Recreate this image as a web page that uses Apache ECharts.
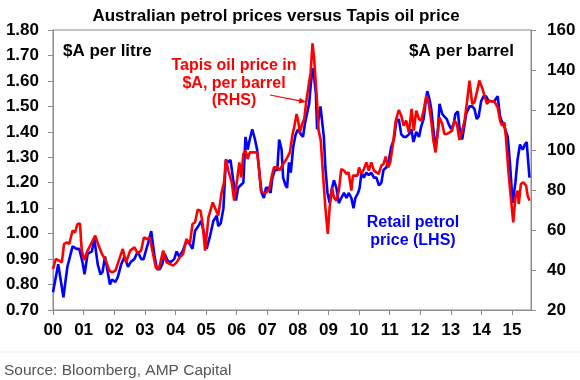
<!DOCTYPE html>
<html>
<head>
<meta charset="utf-8">
<script src="https://cdn.jsdelivr.net/npm/echarts@6/dist/echarts.min.js"></script>
<style>
  html, body { margin: 0; padding: 0; background: #fff; }
  #chart { width: 580px; height: 380px; }
</style>
</head>
<body>
<div id="chart"></div>
<script>
// 零售汽油价格 (LHS, $A per litre)
var petrolYears = [2000.00, 2000.17, 2000.34, 2000.47, 2000.64, 2000.77, 2000.86, 2000.96, 2001.03, 2001.13, 2001.27, 2001.35, 2001.46, 2001.55, 2001.62, 2001.70, 2001.86, 2001.93, 2002.04, 2002.12, 2002.23, 2002.34, 2002.45, 2002.55, 2002.66, 2002.77, 2002.88, 2002.96, 2003.03, 2003.10, 2003.21, 2003.32, 2003.40, 2003.49, 2003.57, 2003.65, 2003.76, 2003.87, 2003.96, 2004.04, 2004.12, 2004.23, 2004.36, 2004.47, 2004.56, 2004.64, 2004.75, 2004.84, 2004.94, 2005.02, 2005.13, 2005.24, 2005.35, 2005.40, 2005.48, 2005.57, 2005.65, 2005.73, 2005.80, 2005.89, 2005.98, 2006.05, 2006.13, 2006.22, 2006.29, 2006.36, 2006.43, 2006.51, 2006.60, 2006.67, 2006.76, 2006.82, 2006.89, 2006.96, 2007.03, 2007.11, 2007.17, 2007.25, 2007.33, 2007.39, 2007.47, 2007.52, 2007.60, 2007.65, 2007.71, 2007.77, 2007.85, 2007.93, 2008.01, 2008.10, 2008.17, 2008.23, 2008.28, 2008.37, 2008.42, 2008.48, 2008.53, 2008.59, 2008.63, 2008.70, 2008.74, 2008.80, 2008.85, 2008.90, 2008.97, 2009.04, 2009.10, 2009.18, 2009.26, 2009.34, 2009.42, 2009.51, 2009.59, 2009.66, 2009.75, 2009.82, 2009.88, 2009.97, 2010.02, 2010.08, 2010.16, 2010.24, 2010.32, 2010.40, 2010.49, 2010.57, 2010.65, 2010.73, 2010.80, 2010.89, 2010.98, 2011.05, 2011.14, 2011.22, 2011.30, 2011.38, 2011.46, 2011.54, 2011.63, 2011.71, 2011.78, 2011.87, 2011.96, 2012.03, 2012.11, 2012.17, 2012.23, 2012.30, 2012.36, 2012.43, 2012.50, 2012.58, 2012.63, 2012.72, 2012.79, 2012.87, 2012.93, 2013.01, 2013.09, 2013.15, 2013.23, 2013.28, 2013.37, 2013.45, 2013.50, 2013.61, 2013.70, 2013.77, 2013.85, 2013.91, 2013.99, 2014.07, 2014.15, 2014.24, 2014.32, 2014.42, 2014.53, 2014.61, 2014.67, 2014.75, 2014.86, 2014.93, 2015.02, 2015.11, 2015.18, 2015.26, 2015.35, 2015.42, 2015.48, 2015.51, 2015.57];
var petrolPrice = [0.77, 0.88, 0.75, 0.87, 0.95, 0.94, 0.94, 0.89, 0.84, 0.92, 0.93, 0.98, 0.88, 0.84, 0.85, 0.91, 0.80, 0.82, 0.81, 0.83, 0.88, 0.91, 0.87, 0.89, 0.90, 0.93, 0.90, 0.90, 0.93, 0.96, 1.01, 0.91, 0.86, 0.86, 0.88, 0.92, 0.89, 0.89, 0.90, 0.93, 0.91, 0.93, 0.97, 0.96, 0.94, 1.01, 1.03, 1.05, 1.00, 0.94, 0.99, 1.05, 1.07, 1.03, 1.04, 1.10, 1.29, 1.28, 1.29, 1.21, 1.13, 1.18, 1.19, 1.20, 1.38, 1.33, 1.37, 1.41, 1.37, 1.33, 1.22, 1.16, 1.14, 1.18, 1.18, 1.16, 1.22, 1.25, 1.25, 1.37, 1.33, 1.22, 1.19, 1.18, 1.28, 1.24, 1.34, 1.39, 1.41, 1.39, 1.38, 1.43, 1.46, 1.51, 1.58, 1.65, 1.62, 1.55, 1.41, 1.47, 1.50, 1.50, 1.38, 1.26, 1.16, 1.12, 1.17, 1.21, 1.18, 1.12, 1.14, 1.16, 1.14, 1.16, 1.14, 1.10, 1.14, 1.16, 1.18, 1.24, 1.22, 1.24, 1.23, 1.24, 1.22, 1.22, 1.19, 1.20, 1.25, 1.26, 1.29, 1.34, 1.37, 1.44, 1.45, 1.39, 1.38, 1.38, 1.39, 1.41, 1.36, 1.40, 1.38, 1.42, 1.45, 1.51, 1.56, 1.53, 1.49, 1.41, 1.33, 1.41, 1.51, 1.47, 1.46, 1.45, 1.43, 1.41, 1.43, 1.47, 1.48, 1.42, 1.37, 1.43, 1.47, 1.50, 1.50, 1.49, 1.45, 1.46, 1.52, 1.54, 1.54, 1.52, 1.52, 1.52, 1.54, 1.46, 1.44, 1.42, 1.38, 1.28, 1.12, 1.20, 1.29, 1.35, 1.33, 1.35, 1.36, 1.31, 1.22];

// Tapis 原油价格 (RHS, $A per barrel)
var tapisYears = [2000.00, 2000.09, 2000.20, 2000.29, 2000.36, 2000.45, 2000.53, 2000.64, 2000.72, 2000.80, 2000.88, 2000.94, 2001.02, 2001.13, 2001.24, 2001.38, 2001.49, 2001.60, 2001.73, 2001.84, 2001.93, 2002.04, 2002.15, 2002.28, 2002.39, 2002.52, 2002.66, 2002.77, 2002.88, 2002.97, 2003.08, 2003.16, 2003.27, 2003.36, 2003.46, 2003.60, 2003.71, 2003.82, 2003.93, 2004.04, 2004.14, 2004.25, 2004.36, 2004.47, 2004.56, 2004.64, 2004.73, 2004.82, 2004.89, 2004.97, 2005.08, 2005.22, 2005.33, 2005.40, 2005.51, 2005.59, 2005.65, 2005.73, 2005.84, 2005.92, 2006.02, 2006.09, 2006.15, 2006.22, 2006.29, 2006.36, 2006.43, 2006.54, 2006.67, 2006.74, 2006.79, 2006.89, 2006.98, 2007.07, 2007.14, 2007.22, 2007.33, 2007.41, 2007.52, 2007.63, 2007.74, 2007.83, 2007.88, 2007.96, 2008.01, 2008.07, 2008.14, 2008.21, 2008.28, 2008.36, 2008.42, 2008.48, 2008.53, 2008.59, 2008.63, 2008.68, 2008.75, 2008.83, 2008.90, 2008.98, 2009.04, 2009.12, 2009.18, 2009.26, 2009.34, 2009.42, 2009.51, 2009.59, 2009.66, 2009.75, 2009.80, 2009.86, 2009.95, 2010.00, 2010.08, 2010.16, 2010.24, 2010.32, 2010.40, 2010.49, 2010.57, 2010.64, 2010.73, 2010.80, 2010.87, 2010.95, 2011.02, 2011.11, 2011.20, 2011.30, 2011.38, 2011.46, 2011.54, 2011.63, 2011.72, 2011.79, 2011.87, 2011.96, 2012.03, 2012.11, 2012.20, 2012.28, 2012.36, 2012.43, 2012.50, 2012.58, 2012.63, 2012.72, 2012.79, 2012.87, 2012.96, 2013.04, 2013.12, 2013.20, 2013.28, 2013.37, 2013.45, 2013.52, 2013.61, 2013.70, 2013.77, 2013.85, 2013.93, 2014.02, 2014.10, 2014.18, 2014.26, 2014.35, 2014.42, 2014.53, 2014.61, 2014.67, 2014.75, 2014.80, 2014.88, 2014.97, 2015.04, 2015.11, 2015.18, 2015.22, 2015.29, 2015.37, 2015.46, 2015.51, 2015.57];
var tapisPrice = [40.5, 45.5, 44.7, 43.8, 53.0, 53.8, 53.0, 59.7, 58.8, 63.0, 63.3, 49.7, 45.0, 49.7, 53.0, 57.2, 52.2, 48.0, 44.7, 39.7, 38.8, 39.7, 44.7, 50.5, 43.8, 49.7, 51.3, 48.3, 49.7, 56.3, 55.5, 56.3, 48.0, 41.3, 40.5, 49.7, 43.8, 43.0, 42.2, 43.8, 46.3, 48.0, 55.5, 53.0, 63.0, 63.8, 70.2, 69.7, 63.0, 49.7, 66.3, 73.8, 69.7, 67.2, 78.8, 83.8, 95.5, 89.7, 83.8, 74.7, 85.5, 93.8, 86.3, 98.0, 99.7, 95.5, 98.8, 98.8, 98.8, 89.7, 79.7, 78.3, 78.8, 80.5, 86.3, 91.3, 91.3, 90.0, 93.0, 95.5, 98.8, 108.0, 111.3, 118.0, 114.7, 108.8, 113.0, 115.5, 124.7, 133.0, 138.8, 153.3, 146.3, 133.0, 123.8, 109.7, 104.7, 86.3, 71.3, 58.0, 71.3, 81.3, 76.3, 74.7, 79.7, 90.5, 89.7, 88.0, 88.8, 79.7, 87.2, 88.0, 87.2, 91.3, 88.0, 90.5, 93.8, 89.7, 93.8, 89.7, 88.8, 88.0, 92.2, 93.0, 96.7, 91.3, 93.8, 103.0, 114.7, 120.0, 117.2, 112.2, 114.7, 108.8, 120.5, 109.7, 119.7, 115.5, 114.7, 119.7, 127.2, 123.0, 114.7, 104.7, 98.8, 109.7, 116.3, 113.0, 108.0, 108.0, 108.8, 109.7, 114.7, 113.0, 105.0, 109.7, 114.7, 123.0, 134.7, 123.0, 123.8, 128.8, 134.7, 131.3, 127.2, 123.0, 124.7, 124.3, 124.3, 121.3, 114.7, 112.2, 113.8, 106.3, 89.7, 74.7, 63.8, 76.3, 79.7, 73.0, 83.0, 83.8, 82.2, 77.2, 74.7];

// 坐标轴刻度
var yearTicks = ['00', '01', '02', '03', '04', '05', '06', '07', '08', '09', '10', '11', '12', '13', '14', '15'];
var leftTicks = ['0.70', '0.80', '0.90', '1.00', '1.10', '1.20', '1.30', '1.40', '1.50', '1.60', '1.70', '1.80'];
var rightTicks = ['20', '40', '60', '80', '100', '120', '140', '160'];

var FONT = "'Liberation Sans', Arial, sans-serif";
var AXIS_GREY = '#8c8c8c';

var dom = document.getElementById('chart');
var myChart = echarts.init(dom, null, { renderer: 'canvas' });

function pairs(xs, ys) {
  return xs.map(function (x, i) { return [x, ys[i]]; });
}

var labelStyle = { color: '#000', fontFamily: FONT, fontWeight: 'bold', fontSize: 17 };

var option = {
  animation: false,
  backgroundColor: '#fff',
  grid: {
    left: 53, right: 49, top: 30, bottom: 70,
    show: true, borderColor: AXIS_GREY, borderWidth: 1
  },
  xAxis: {
    type: 'value',
    min: 2000, max: 2015.62, interval: 1,
    axisLine: { lineStyle: { color: AXIS_GREY } },
    axisTick: { length: 5, lineStyle: { color: AXIS_GREY } },
    splitLine: { show: false },
    axisLabel: Object.assign({
      showMaxLabel: false,
      margin: 12,
      formatter: function (v) {
        var i = Math.round(v - 2000);
        return Math.abs(v - 2000 - i) < 1e-6 ? (yearTicks[i] || '') : '';
      }
    }, labelStyle)
  },
  yAxis: [{
    type: 'value',
    min: 0.7, max: 1.8, interval: 0.1,
    position: 'left',
    axisLine: { show: true, lineStyle: { color: AXIS_GREY } },
    axisTick: { show: true, length: 5, lineStyle: { color: AXIS_GREY } },
    splitLine: { show: false },
    axisLabel: Object.assign({
      margin: 14,
      formatter: function (v) { return leftTicks[Math.round((v - 0.7) * 10)] || ''; }
    }, labelStyle)
  }, {
    type: 'value',
    min: 20, max: 160, interval: 20,
    position: 'right',
    axisLine: { show: true, lineStyle: { color: AXIS_GREY } },
    axisTick: { show: true, length: 5, lineStyle: { color: AXIS_GREY } },
    splitLine: { show: false },
    axisLabel: Object.assign({
      margin: 16,
      formatter: function (v) { return rightTicks[Math.round((v - 20) / 20)] || ''; }
    }, labelStyle)
  }],
  series: [{
    name: 'Retail petrol price (LHS)',
    type: 'line',
    yAxisIndex: 0,
    data: pairs(petrolYears, petrolPrice),
    showSymbol: false,
    lineStyle: { color: '#0000ff', width: 2.6 },
    z: 2
  }, {
    name: 'Tapis oil price in $A, per barrel (RHS)',
    type: 'line',
    yAxisIndex: 1,
    data: pairs(tapisYears, tapisPrice),
    showSymbol: false,
    lineStyle: { color: '#ff0000', width: 2.6 },
    z: 3
  }]
};

myChart.setOption(option);

// 指向红线的箭头
var tip = myChart.convertToPixel({ xAxisIndex: 0, yAxisIndex: 1 }, [2008.27, 124]);
var tail = [270, 95];
var ang = Math.atan2(tip[1] - tail[1], tip[0] - tail[0]);
var hl = 7, hw = 3;

myChart.setOption({
  graphic: [
    { id: 'title', type: 'text', x: 276, y: 16,
      style: { text: 'Australian petrol prices versus Tapis oil price', font: 'bold 17px ' + FONT, fill: '#000',
               align: 'center', verticalAlign: 'middle' } },
    { id: 'lhsUnit', type: 'text', x: 63, y: 51,
      style: { text: '$A per litre', font: 'bold 17px ' + FONT, fill: '#000', verticalAlign: 'middle' } },
    { id: 'rhsUnit', type: 'text', x: 514, y: 51,
      style: { text: '$A per barrel', font: 'bold 17px ' + FONT, fill: '#000', align: 'right', verticalAlign: 'middle' } },
    { id: 'tapisNote', type: 'text', x: 234, y: 57,
      style: { text: 'Tapis oil price in\n$A, per barrel\n(RHS)', font: 'bold 16px ' + FONT, fill: '#ff0000',
               align: 'center', verticalAlign: 'top', lineHeight: 17.5 } },
    { id: 'petrolNote', type: 'text', x: 413, y: 214,
      style: { text: 'Retail petrol\nprice (LHS)', font: 'bold 16px ' + FONT, fill: '#0000ff',
               align: 'center', verticalAlign: 'top', lineHeight: 18 } },
    { id: 'arrowLine', type: 'line',
      shape: { x1: tail[0], y1: tail[1], x2: tip[0] - Math.cos(ang) * 5, y2: tip[1] - Math.sin(ang) * 5 },
      style: { stroke: '#ff0000', lineWidth: 1.2 } },
    { id: 'arrowHead', type: 'polygon', shape: { points: [
        [tip[0], tip[1]],
        [tip[0] - hl * Math.cos(ang) + hw * Math.sin(ang), tip[1] - hl * Math.sin(ang) - hw * Math.cos(ang)],
        [tip[0] - hl * Math.cos(ang) - hw * Math.sin(ang), tip[1] - hl * Math.sin(ang) + hw * Math.cos(ang)]
      ] }, style: { fill: '#ff0000' } },
    { id: 'sep', type: 'line', shape: { x1: 0, y1: 352, x2: 580, y2: 352 }, style: { stroke: '#ececec', lineWidth: 1 } },
    { id: 'source', type: 'text', x: 4, y: 371,
      style: { text: 'Source: Bloomberg, AMP Capital', font: '15.5px ' + FONT, fill: '#555555', verticalAlign: 'middle' } }
  ]
});

window.addEventListener('resize', function () { myChart.resize(); });
</script>
</body>
</html>
